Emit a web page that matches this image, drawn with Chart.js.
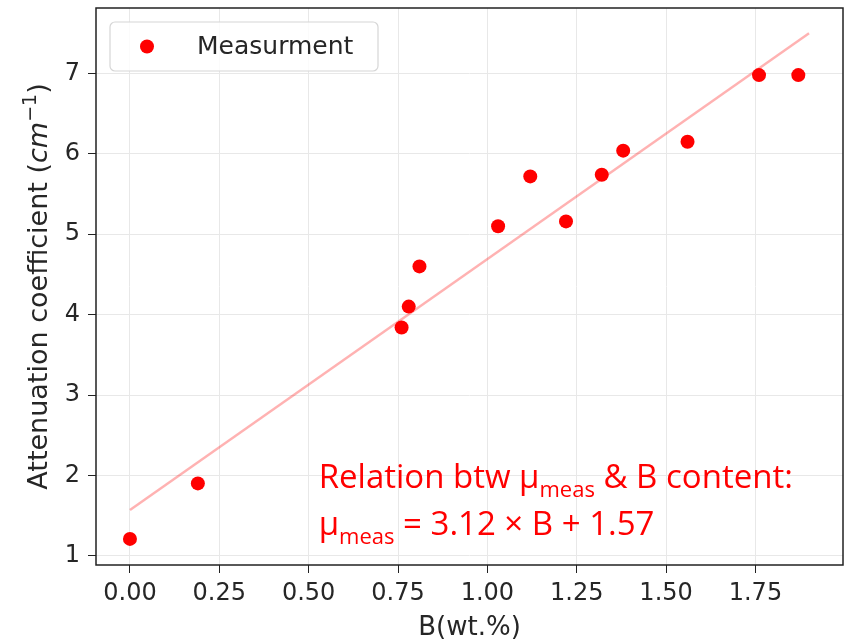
<!DOCTYPE html>
<html>
<head>
<meta charset="utf-8">
<script src="https://cdn.jsdelivr.net/npm/chart.js@4/dist/chart.umd.min.js"></script>
<style>
  html, body { margin: 0; padding: 0; background: #fff; }
  canvas { display: block; }
</style>
</head>
<body>
<canvas id="chart" width="851" height="641"></canvas>
<script>
const boron = [0.00, 0.19, 0.76, 0.78, 0.81, 1.03, 1.12, 1.22, 1.32, 1.38, 1.56, 1.76, 1.87];
const atten = [1.21, 1.90, 3.84, 4.10, 4.60, 5.10, 5.72, 5.16, 5.74, 6.04, 6.15, 6.98, 6.98];

// fitted line end points
const fitB = [0.00, 1.90];
const fitMu = [1.57, 7.50];

const xTicks = [0, 0.25, 0.5, 0.75, 1.0, 1.25, 1.5, 1.75];
const yTicks = [1, 2, 3, 4, 5, 6, 7];

const legendLabel = "Measurment";
const xTitle = "B(wt.%)";
// y title pieces: text, style ("n" normal, "i" italic, "s" superscript)
const yTitle = [["Attenuation coefficient (", "n"], ["cm", "i"], ["−1", "s"], [")", "n"]];
const noteLines = [
  [["Relation btw μ", false], ["meas", true], [" & B content:", false]],
  [["μ", false], ["meas", true], [" = 3.12 × B + 1.57", false]]
];
// anchor of the note in data units (left x, baseline y of each line)
const noteX = 0.528;
const noteY = [1.84, 1.26];

const tickFont = { family: "DejaVu Sans", size: 24 };
const inkColor = "#262626";

function noPad(s) {
  s.paddingTop = 0; s.paddingBottom = 0; s.paddingLeft = 0; s.paddingRight = 0;
}

// frame, legend box, y title and the red note
const extras = {
  id: "extras",
  afterDraw(chart) {
    const ctx = chart.ctx;
    const a = chart.chartArea;
    const xs = chart.scales.x, ys = chart.scales.y;
    ctx.save();

    // frame around the axes
    ctx.strokeStyle = "#222";
    ctx.lineWidth = 1.5;
    ctx.strokeRect(a.left, a.top, a.right - a.left, a.bottom - a.top);

    // legend box
    const lx = a.left + 14, ly = a.top + 14, lw = 268, lh = 49;
    ctx.beginPath();
    ctx.roundRect(lx, ly, lw, lh, 5);
    ctx.fillStyle = "rgba(255,255,255,0.8)";
    ctx.fill();
    ctx.strokeStyle = "#d6d6d6";
    ctx.lineWidth = 1.2;
    ctx.stroke();
    ctx.beginPath();
    ctx.arc(lx + 37, ly + lh / 2, 7, 0, Math.PI * 2);
    ctx.fillStyle = "#ff0000";
    ctx.fill();
    ctx.fillStyle = inkColor;
    ctx.font = "25px 'DejaVu Sans'";
    ctx.textBaseline = "middle";
    ctx.textAlign = "left";
    ctx.fillText(legendLabel, lx + 87, ly + lh / 2 + 1);

    // y axis title, rotated, with italic cm and superscript
    const fontFor = (st) => st === "i" ? "oblique 27px 'DejaVu Sans'"
      : st === "s" ? "19px 'DejaVu Sans'" : "27px 'DejaVu Sans'";
    let total = 0;
    yTitle.forEach(([t, st]) => { ctx.font = fontFor(st); total += ctx.measureText(t).width; });
    ctx.save();
    ctx.translate(47, (a.top + a.bottom) / 2);
    ctx.rotate(-Math.PI / 2);
    ctx.textBaseline = "alphabetic";
    ctx.fillStyle = inkColor;
    let px = -total / 2;
    yTitle.forEach(([t, st]) => {
      ctx.font = fontFor(st);
      ctx.fillText(t, px, st === "s" ? -11 : 0);
      px += ctx.measureText(t).width;
    });
    ctx.restore();

    // note with subscripts
    ctx.fillStyle = "#ff0000";
    ctx.textBaseline = "alphabetic";
    const big = 33, small = 22;
    noteLines.forEach((parts, i) => {
      let x = xs.getPixelForValue(noteX);
      const y = ys.getPixelForValue(noteY[i]);
      parts.forEach(([t, sub]) => {
        ctx.font = (sub ? small : big) + "px 'Open Sans'";
        ctx.fillText(t, x, sub ? y + 9 : y);
        x += ctx.measureText(t).width;
      });
    });
    ctx.restore();
  }
};

new Chart(document.getElementById("chart"), {
  type: "scatter",
  data: {
    datasets: [
      {
        label: legendLabel,
        data: boron.map((b, i) => ({ x: b, y: atten[i] })),
        backgroundColor: "#ff0000",
        borderWidth: 0,
        pointRadius: 7,
        order: 1
      },
      {
        label: "fit",
        data: fitB.map((b, i) => ({ x: b, y: fitMu[i] })),
        showLine: true,
        borderColor: "rgba(255,0,0,0.3)",
        borderWidth: 2.5,
        pointRadius: 0,
        order: 2
      }
    ]
  },
  options: {
    responsive: false,
    animation: false,
    layout: { padding: { left: 0, right: 8, top: 8, bottom: 0 } },
    plugins: {
      legend: { display: false },
      tooltip: { enabled: false }
    },
    scales: {
      x: {
        type: "linear",
        min: -0.095,
        max: 1.995,
        afterBuildTicks: (s) => { s.ticks = xTicks.map(v => ({ value: v })); },
        afterFit: (s) => { s.height = 76; noPad(s); },
        grid: { color: "#e8e8e8", tickColor: "#222", tickLength: 8, lineWidth: 1 },
        border: { display: false },
        ticks: {
          font: tickFont, color: inkColor, padding: 6, maxRotation: 0,
          callback: (v) => Number(v).toFixed(2)
        },
        title: {
          display: true, text: xTitle, color: inkColor,
          font: { family: "DejaVu Sans", size: 26 }, padding: { top: 0, bottom: -3 }
        }
      },
      y: {
        type: "linear",
        min: 0.885,
        max: 7.815,
        afterBuildTicks: (s) => { s.ticks = yTicks.map(v => ({ value: v })); },
        afterFit: (s) => { s.width = 96; noPad(s); },
        grid: { color: "#e8e8e8", tickColor: "#222", tickLength: 8, lineWidth: 1 },
        border: { display: false },
        ticks: { font: tickFont, color: inkColor, padding: 8 }
      }
    }
  },
  plugins: [extras]
});
</script>
</body>
</html>
